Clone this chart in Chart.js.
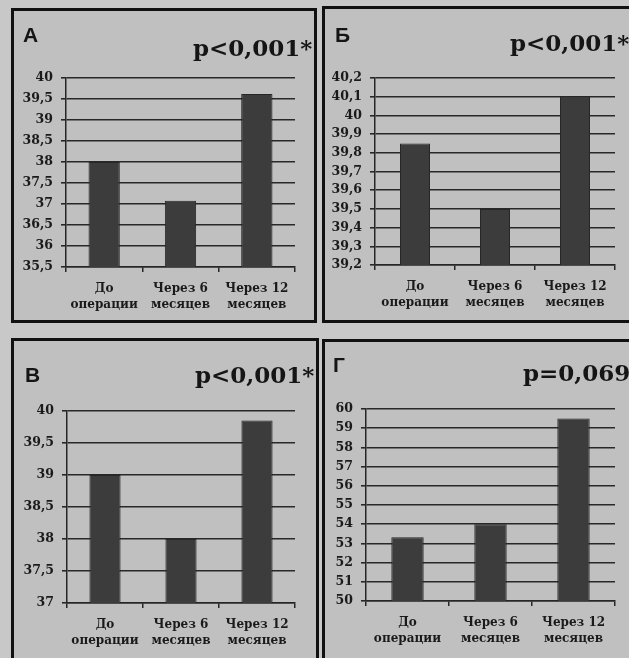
<!DOCTYPE html>
<html>
<head>
<meta charset="utf-8">
<script src="https://cdn.jsdelivr.net/npm/chart.js@4/dist/chart.umd.min.js"></script>
<style>
body { margin: 0; width: 629px; height: 658px; overflow: hidden; background: #c8c8c8; position: relative; }
.box { position: absolute; border: 3px solid #111; background: #c0c0c0; box-sizing: border-box; }
canvas { position: absolute; }
.letter { position: absolute; font: bold 21px "Liberation Sans", sans-serif; line-height: 21px; color: #151515; }
.pval { position: absolute; font: bold 23px "DejaVu Serif", serif; line-height: 23px; color: #151515; white-space: nowrap; }
</style>
</head>
<body>
<script>
// categories shared by all four panels
labels = [['До', 'операции'], ['Через 6', 'месяцев'], ['Через 12', 'месяцев']]

// panel values
valuesA = [38.0, 37.08, 39.62]
valuesB = [39.85, 39.5, 40.1]
valuesV = [39.0, 38.0, 39.85]
valuesG = [53.32, 54.0, 59.5]

// y scale limits and steps
scaleA = [35.5, 40, 0.5]
scaleB = [39.2, 40.2, 0.1]
scaleV = [37, 40, 0.5]
scaleG = [50, 60, 1]

letters = ['А', 'Б', 'В', 'Г']
pvalues = ['p<0,001*', 'p<0,001*', 'p<0,001*', 'p=0,069']

panels = [
  { box: [11, 8, 317, 323], plot: [66, 78, 295, 267], values: valuesA, scale: scaleA, bar: 0.41, letter: [23, 24], p: [193, 36] },
  { box: [322, 6, 640, 323], plot: [375, 78, 615, 265], values: valuesB, scale: scaleB, bar: 0.375, letter: [335, 24], p: [510, 31] },
  { box: [11, 338, 319, 670], plot: [67, 411, 295, 603], values: valuesV, scale: scaleV, bar: 0.41, letter: [25, 364], p: [195, 363] },
  { box: [322, 339, 640, 670], plot: [366, 409, 615, 601], values: valuesG, scale: scaleG, bar: 0.39, letter: [333, 354], p: [523, 361] },
]

function fmt(v) {
  return String(Number(v.toFixed(2))).replace('.', ',')
}

tickFont = { family: '"DejaVu Serif", serif', weight: 'bold', size: 12.5 }
catFont = { family: '"DejaVu Serif", serif', weight: 'bold', size: 12, lineHeight: 1.4 }

panels.forEach(function (p, i) {
  box = document.createElement('div')
  box.className = 'box'
  box.style.left = p.box[0] + 'px'
  box.style.top = p.box[1] + 'px'
  box.style.width = (p.box[2] - p.box[0]) + 'px'
  box.style.height = (p.box[3] - p.box[1]) + 'px'
  document.body.appendChild(box)

  c = { l: p.box[0] + 3, t: p.box[1] + 3, r: Math.min(p.box[2] - 3, 629), b: Math.min(p.box[3] - 3, 658) }
  cv = document.createElement('canvas')
  cv.width = c.r - c.l
  cv.height = c.b - c.t
  cv.style.left = c.l + 'px'
  cv.style.top = c.t + 'px'
  document.body.appendChild(cv)

  lt = document.createElement('div')
  lt.className = 'letter'
  lt.textContent = letters[i]
  lt.style.left = p.letter[0] + 'px'
  lt.style.top = p.letter[1] + 'px'
  document.body.appendChild(lt)

  pv = document.createElement('div')
  pv.className = 'pval'
  pv.textContent = pvalues[i]
  pv.style.left = p.p[0] + 'px'
  pv.style.top = p.p[1] + 'px'
  document.body.appendChild(pv)

  yW = p.plot[0] - c.l
  xH = c.b - p.plot[3]

  new Chart(cv, {
    type: 'bar',
    data: {
      labels,
      datasets: [{
        data: p.values,
        backgroundColor: '#3c3c3c',
        borderColor: '#262626',
        borderWidth: 1,
        barPercentage: p.bar,
        categoryPercentage: 1,
      }]
    },
    options: {
      responsive: false,
      animation: false,
      layout: { padding: { left: 0, top: p.plot[1] - c.t, right: c.r - p.plot[2], bottom: 0 } },
      plugins: { legend: { display: false }, tooltip: { enabled: false } },
      scales: {
        x: {
          afterFit: function (s) { s.height = xH },
          grid: { drawOnChartArea: false, color: '#262626', lineWidth: 1.5, tickLength: 5 },
          border: { color: '#262626', width: 1.5 },
          ticks: { color: '#1a1a1a', font: catFont, padding: 8, maxRotation: 0 },
        },
        y: {
          min: p.scale[0],
          max: p.scale[1],
          afterFit: function (s) { s.width = yW },
          grid: { color: '#282828', lineWidth: 1.6, tickLength: 5 },
          border: { color: '#262626', width: 1.5 },
          ticks: { stepSize: p.scale[2], autoSkip: false, color: '#1a1a1a', font: tickFont, padding: 8, callback: fmt },
        }
      }
    }
  })
})
</script>
</body>
</html>
